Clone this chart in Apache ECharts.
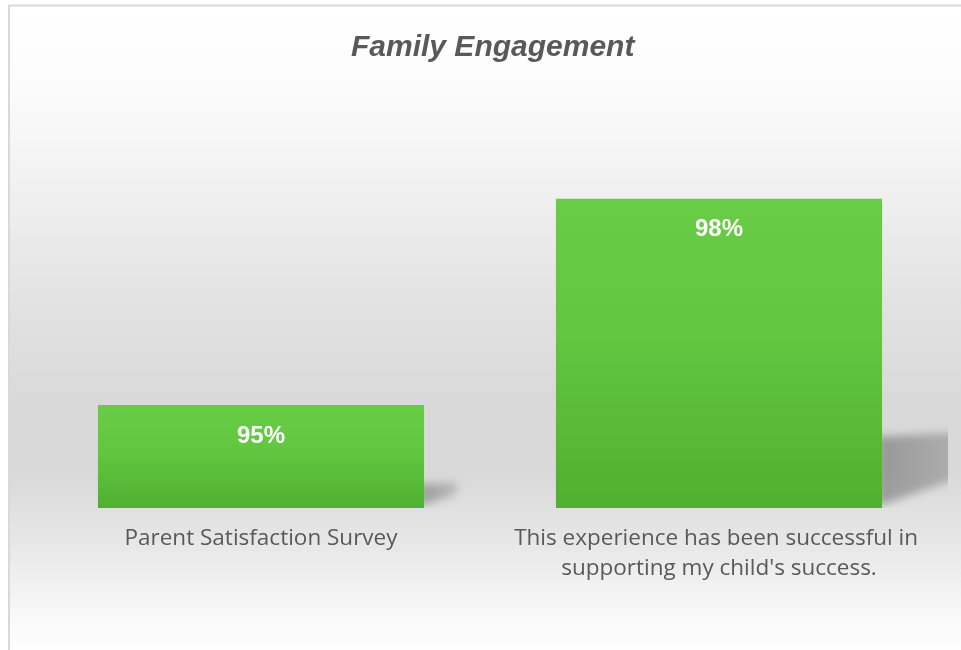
<!DOCTYPE html>
<html>
<head>
<meta charset="utf-8">
<script src="https://cdn.jsdelivr.net/npm/echarts@6/dist/echarts.min.js"></script>
<style>
html,body{margin:0;padding:0;background:#ffffff;}
#chart{width:961px;height:650px;}
</style>
</head>
<body>
<div id="chart"></div>
<script>
var categories = ["Parent Satisfaction Survey", "This experience has been successful in supporting my child's success."];
var values = [95, 98];
var titleText = "Family Engagement";

var chart = echarts.init(document.getElementById('chart'), null, { devicePixelRatio: 1 });
var G = echarts.graphic;
var OFF = 3000;

var option = {
  animation: false,
  title: {
    text: titleText,
    left: 346,
    top: 28,
    textStyle: {
      fontFamily: 'Liberation Sans',
      fontStyle: 'italic',
      fontWeight: 'bold',
      fontSize: 30,
      color: '#595959'
    }
  },
  graphic: [
    {
      type: 'rect', z: -10, silent: true,
      shape: { x: 9, y: 6, width: 960, height: 650 },
      style: {
        fill: new G.LinearGradient(0, 0, 0, 1, [
          { offset: 0, color: '#ffffff' },
          { offset: 0.08, color: '#fdfdfd' },
          { offset: 0.15, color: '#fafafa' },
          { offset: 0.30, color: '#efefef' },
          { offset: 0.46, color: '#e2e2e2' },
          { offset: 0.61, color: '#d9d9d9' },
          { offset: 0.72, color: '#d9d9d9' },
          { offset: 0.84, color: '#e9e9e9' },
          { offset: 0.95, color: '#fafafa' },
          { offset: 1, color: '#ffffff' }
        ])
      }
    },
    { type: 'line', z: -9, silent: true, shape: { x1: 9, y1: 5, x2: 9, y2: 650 }, style: { stroke: '#d9d9d9', lineWidth: 2 } },
    { type: 'line', z: -9, silent: true, shape: { x1: 8, y1: 5.5, x2: 961, y2: 5.5 }, style: { stroke: '#d9d9d9', lineWidth: 2 } }
  ],
  grid: { left: 32, right: 13, top: 130, bottom: 142, containLabel: false },
  xAxis: {
    type: 'category',
    data: categories,
    axisLine: { show: false },
    axisTick: { show: false },
    axisLabel: {
      interval: 0,
      margin: 16,
      color: '#595959',
      fontFamily: 'Open Sans',
      fontSize: 22.5,
      lineHeight: 30,
      width: 440,
      overflow: 'break'
    }
  },
  yAxis: {
    type: 'value',
    min: 93.5,
    max: 99,
    show: false,
    splitLine: { show: false }
  },
  series: [
    {
      type: 'custom',
      z: 1,
      silent: true,
      data: values.map(function (v, i) { return [i, v]; }),
      renderItem: function (params, api) {
        var top = api.coord([api.value(0), api.value(1)]);
        var base = api.coord([api.value(0), 93.5]);
        var size = api.size([1, 0]);
        var bw = size[0] * 0.712;
        var x1 = top[0] + bw / 2 - 4;
        var y0 = base[1];
        var h = y0 - top[1];
        var pts = [
          [x1 - OFF, y0 - 2],
          [x1 - OFF, y0 - 0.23 * h],
          [x1 + 0.36 * h - OFF, y0 - 0.25 * h],
          [x1 + 0.36 * h - OFF, y0 - 0.13 * h]
        ];
        var cs = params.coordSys;
        return {
          type: 'polygon',
          shape: { points: pts },
          clipPath: { type: 'rect', shape: { x: cs.x - OFF - 10, y: 0, width: cs.width + OFF + 10, height: cs.y + cs.height } },
          style: {
            fill: new G.LinearGradient(0, 0, 1, 0, [
              { offset: 0, color: 'rgba(0,0,0,1)' },
              { offset: 1, color: 'rgba(0,0,0,0.5)' }
            ]),
            shadowBlur: 8,
            shadowOffsetX: OFF,
            shadowOffsetY: 0,
            shadowColor: 'rgba(0,0,0,0.3)'
          }
        };
      }
    },
    {
      type: 'bar',
      z: 2,
      data: values,
      barWidth: '71.2%',
      itemStyle: {
        color: new G.LinearGradient(0, 0, 0, 1, [
          { offset: 0, color: '#68cc46' },
          { offset: 0.45, color: '#62c641' },
          { offset: 1, color: '#50b030' }
        ])
      },
      label: {
        show: true,
        position: 'insideTop',
        distance: 19,
        formatter: function (p) { return p.value + '%'; },
        color: '#ffffff',
        fontFamily: 'Liberation Sans',
        fontWeight: 'bold',
        fontSize: 24
      }
    }
  ]
};
chart.setOption(option);
</script>
</body>
</html>
